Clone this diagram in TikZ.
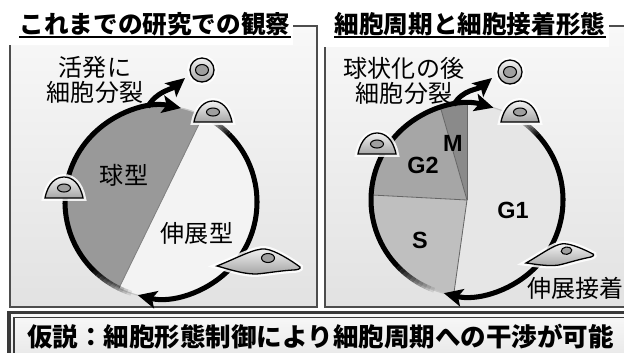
\documentclass[tikz,border=0pt]{standalone}
\usepackage{fontspec}
\setmainfont{Noto Sans CJK JP}
\newfontfamily\phasefont{Liberation Sans}
\usetikzlibrary{arrows.meta}

\definecolor{framegray}{HTML}{4D4D4D}
\definecolor{panelhi}{HTML}{F8F8F8}
\definecolor{panello}{HTML}{E2E2E2}
\definecolor{roundpart}{HTML}{999999}
\definecolor{flatpart}{HTML}{F3F3F3}
\definecolor{gone}{HTML}{E6E6E6}
\definecolor{mphase}{HTML}{8A8A8A}
\definecolor{gtwo}{HTML}{A6A6A6}
\definecolor{sphase}{HTML}{BFBFBF}
\definecolor{hypoframe}{HTML}{3A3A3A}

\tikzset{
  panel/.style={draw=framegray, line width=1.2pt, top color=panelhi, bottom color=panello},
  paneltitle/.style={font=\fontsize{21}{24}\selectfont\bfseries, inner sep=0pt},
  jplabel/.style={font=\fontsize{20.5}{21}\selectfont, align=center, inner sep=0pt},
  hypotext/.style={font=\fontsize{21.8}{24}\selectfont\bfseries, inner sep=0pt},
  phase/.style={font=\phasefont\bfseries\fontsize{20}{20}\selectfont, inner sep=0pt},
  cyc/.style={line width=4.3pt, -{Stealth[length=16pt, width=15pt, inset=3.5pt]}},
  cycline/.style={line width=4.3pt},
  rim/.style={draw=gray!45, line width=1pt},
  sector/.style={draw=black!60, line width=.7pt},
  cellbody/.style={draw=black, line width=1.1pt, top color=gray!10, bottom color=gray!70,
    preaction={draw=white, line width=5pt, opacity=.85}},
  nucleus/.style={draw=black, line width=.9pt, fill=gray!75},
  domecell/.pic={
    \path[cellbody] (-19,0) .. controls (-16,15) and (-8,21) .. (0,21)
      .. controls (8,21) and (16,15) .. (19,0) -- cycle;
    \path[nucleus] (0,10) ellipse[x radius=6.5, y radius=4];
  },
  roundcell/.pic={
    \path[cellbody] (0,0) circle (12);
    \path[nucleus] (0,0) ellipse[x radius=6.5, y radius=5.5];
  },
  flatcell/.pic={
    \path[cellbody] (0,0) .. controls (20,8) and (38,18) .. (48,17)
      .. controls (58,16) and (75,5) .. (83,-1)
      .. controls (84,-3) and (80,-4) .. (76,-4)
      .. controls (60,-5) and (45,-8) .. (38,-8)
      .. controls (25,-8) and (8,-2) .. (0,0) -- cycle;
    \path[nucleus] (51,8) ellipse[x radius=6.5, y radius=4.5];
  },
}

% arc that fades in from #1 to #2 (degrees) on radius #3
\newcommand\fadearc[3]{%
  \foreach \k in {0,...,9}{
    \pgfmathsetmacro\aa{#1+(#2-#1)*\k/10}
    \pgfmathsetmacro\ab{#1+(#2-#1)*(\k+1)/10}
    \pgfmathsetmacro\op{(\k+1)/11}
    \draw[cycline, opacity=\op] (\aa:#3) arc[start angle=\aa, end angle=\ab, radius=#3];
  }}

\begin{document}
\begin{tikzpicture}[x=0.03cm, y=0.03cm]
    \useasboundingbox (0,0) rectangle (624,352);
    \clip (0,0) rectangle (624,352);
    \fill[white] (0,0) rectangle (624,352);

    % panels and their titles
    \path[panel] (10,45) rectangle (317,326);
    \path[panel] (325,45) rectangle (640,326);
    \fill[white] (4,307) rectangle (293,352);
    \fill[white] (321,305) rectangle (609,352);
    \node[paneltitle] (pastobs) at (155,328) {これまでの研究での観察};
    \draw[line width=1.6pt] (pastobs.west |- 0,315) -- (pastobs.east |- 0,315);
    \node[paneltitle] (cyclemorph) at (470,328) {細胞周期と細胞接着形態};
    \draw[line width=1.6pt] (cyclemorph.west |- 0,315) -- (cyclemorph.east |- 0,315);

    % left cycle: round / spread halves
    \begin{scope}[shift={(161,150)}]
        \fill[flatpart] (0,0) circle (96);
        \fill[roundpart] (64:96) arc[start angle=64, end angle=244, radius=96] -- cycle;
        \draw[sector, draw=gray] (64:96) -- (244:96);
        \draw[rim] (0,0) circle (96);
        \fadearc{252}{226}{96}
        \draw[cyc] (226:96) arc[start angle=226, end angle=78, radius=96];
        \fadearc{60}{45}{96}
        \draw[cyc] (45:96) arc[start angle=45, end angle=-104, radius=96];
        \draw[cyc] (98:96) to[out=60, in=220] (24,124);
    \end{scope}

    % right cycle: phases
    \begin{scope}[shift={(467,152)}]
        \fill[gone] (0,0) -- (-98:96) arc[start angle=-98, end angle=90, radius=96] -- cycle;
        \fill[mphase] (0,0) -- (90:96) arc[start angle=90, end angle=106, radius=96] -- cycle;
        \fill[gtwo] (0,0) -- (106:96) arc[start angle=106, end angle=177, radius=96] -- cycle;
        \fill[sphase] (0,0) -- (177:96) arc[start angle=177, end angle=262, radius=96] -- cycle;
        \foreach \a in {90,106,177,262}
            \draw[sector] (0,0) -- (\a:96);
        \draw[rim] (0,0) circle (96);
        \fadearc{250}{224}{96}
        \draw[cyc] (224:96) arc[start angle=224, end angle=74, radius=96];
        \fadearc{56}{43}{96}
        \draw[cyc] (43:96) arc[start angle=43, end angle=-104, radius=96];
        \draw[cyc] (98:96) to[out=60, in=220] (25,122);
    \end{scope}

    % cells
    \pic at (202,282) {roundcell};
    \pic at (213,230) {domecell};
    \pic at (64,154) {domecell};
    \pic at (217,86) {flatcell};
    \pic at (510,280) {roundcell};
    \pic at (520,230) {domecell};
    \pic at (377,198) {domecell};
    \pic[rotate=8, scale=.82] at (526,89) {flatcell};

    % labels
    \node[jplabel] (activediv) at (95,272) {活発に\\細胞分裂};
    \node[jplabel] (roundtype) at (124,177) {球型};
    \node[jplabel] (flattype) at (197,119) {伸展型};
    \node[jplabel] (afterround) at (404,271) {球状化の後\\細胞分裂};
    \node[jplabel, anchor=east] (flatadh) at (623.5,64) {伸展接着};
    \node[phase] (mlab) at (453,209) {M};
    \node[phase] (g2lab) at (423,187) {G2};
    \node[phase] (g1lab) at (513,142) {G1};
    \node[phase] (slab) at (420,112) {S};

    % hypothesis bar
    \path[draw=hypoframe, line width=3.4pt, top color=gray!5, bottom color=gray!22] (9,39.5) rectangle (640,-20);
    \draw[hypoframe, line width=.9pt] (14,34.5) rectangle (635,-20);
    \node[hypotext] (hypo) at (320.5,15) {仮説：細胞形態制御により細胞周期への干渉が可能};
\end{tikzpicture}
\end{document}
